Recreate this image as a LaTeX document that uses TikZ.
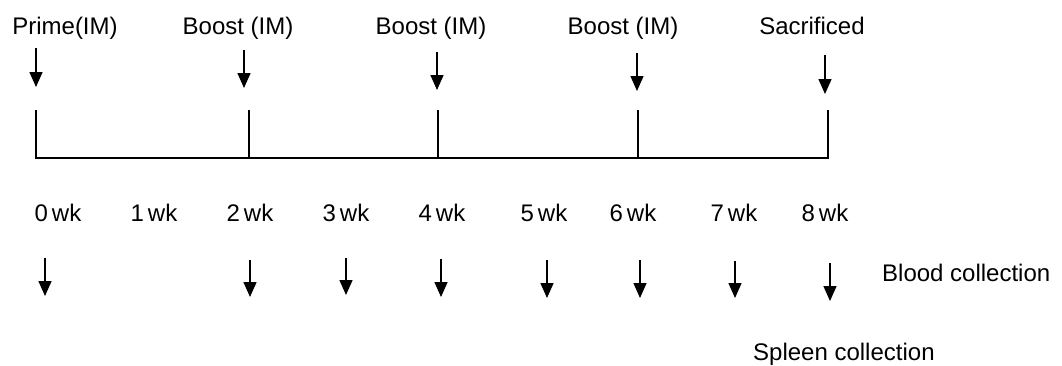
\documentclass[tikz,border=0pt]{standalone}
\usepackage{fontspec}
\setmainfont{Liberation Sans}
\usetikzlibrary{arrows.meta}
\begin{document}
\begin{tikzpicture}[x=1pt,y=-1pt,
  lbl/.style={inner sep=0pt,anchor=base,font=\fontsize{24}{28}\selectfont,text=black},
  arr/.style={line width=1.5pt,-{Triangle[width=13pt,length=15pt]}},
  axisline/.style={line width=1.6pt}]
\useasboundingbox (0,0) rectangle (1062,365);
% top labels
\node[lbl] (prime) at (65,34) {Prime(IM)};
\node[lbl] (b1) at (238,34) {Boost (IM)};
\node[lbl] (b2) at (431,34) {Boost (IM)};
\node[lbl] (b3) at (623,34) {Boost (IM)};
\node[lbl] (sac) at (812,34) {Sacrificed};
% top arrows
\coordinate (pa) at (36,48);  \coordinate (pb) at (36,87);
\coordinate (b1a) at (244,50); \coordinate (b1b) at (244,88);
\coordinate (b2a) at (437,52); \coordinate (b2b) at (437,90);
\coordinate (b3a) at (637,53); \coordinate (b3b) at (637,91);
\coordinate (sa) at (825,55); \coordinate (sb) at (825,94);
\draw[arr] (pa) -- (pb);
\draw[arr] (b1a) -- (b1b);
\draw[arr] (b2a) -- (b2b);
\draw[arr] (b3a) -- (b3b);
\draw[arr] (sa) -- (sb);
% timeline
\coordinate (t0) at (36,110); \coordinate (l0) at (36,158);
\coordinate (t8) at (828,110); \coordinate (l8) at (828,158);
\coordinate (t2) at (249,110); \coordinate (l2) at (249,158);
\coordinate (t4) at (438,110); \coordinate (l4) at (438,158);
\coordinate (t6) at (638,110); \coordinate (l6) at (638,158);
\draw[axisline] (t0) -- (l0) -- (l8) -- (t8);
\draw[axisline] (t2) -- (l2);
\draw[axisline] (t4) -- (l4);
\draw[axisline] (t6) -- (l6);
% week labels
\node[lbl] (w0) at (58,221) {0\hspace{4pt}wk};
\node[lbl] (w1) at (154,221) {1\hspace{4pt}wk};
\node[lbl] (w2) at (250,221) {2\hspace{4pt}wk};
\node[lbl] (w3) at (346,221) {3\hspace{4pt}wk};
\node[lbl] (w4) at (442,221) {4\hspace{4pt}wk};
\node[lbl] (w5) at (544,221) {5\hspace{4pt}wk};
\node[lbl] (w6) at (633,221) {6\hspace{4pt}wk};
\node[lbl] (w7) at (734,221) {7\hspace{4pt}wk};
\node[lbl] (w8) at (825,221) {8\hspace{4pt}wk};
% bottom arrows
\foreach \i/\x/\ya/\yb in {0/45/258/296, 2/250/260/297, 3/346/258/295, 4/441/259/297, 5/547/260/298, 6/640/260/298, 7/735/261/298, 8/830/263/301}{
  \coordinate (c\i a) at (\x,\ya);
  \coordinate (c\i b) at (\x,\yb);
  \draw[arr] (c\i a) -- (c\i b);
}
\node[lbl,anchor=base west] (blood) at (882,281) {Blood collection};
\node[lbl,anchor=base west] (spleen) at (753,360) {Spleen collection};
\end{tikzpicture}
\end{document}
